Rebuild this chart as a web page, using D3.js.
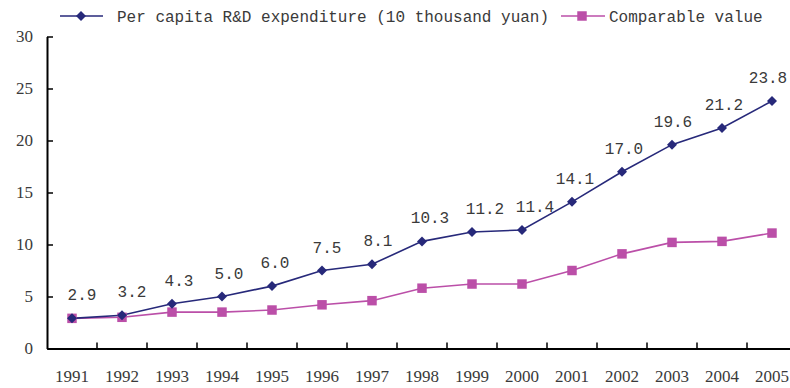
<!DOCTYPE html>
<html>
<head>
<meta charset="utf-8">
<script src="https://cdn.jsdelivr.net/npm/d3@7"></script>
<style>
  html, body { margin: 0; padding: 0; background: #fff; }
  svg { display: block; }
</style>
</head>
<body>
<svg id="chart" width="790" height="388"></svg>
<script>
// Per capita R&D expenditure, 1991-2005
const years = ["1991","1992","1993","1994","1995","1996","1997","1998","1999","2000","2001","2002","2003","2004","2005"];
const perCapita = [2.9, 3.2, 4.3, 5.0, 6.0, 7.5, 8.1, 10.3, 11.2, 11.4, 14.1, 17.0, 19.6, 21.2, 23.8];
const comparable = [2.9, 3.0, 3.5, 3.5, 3.7, 4.2, 4.6, 5.8, 6.2, 6.2, 7.5, 9.1, 10.2, 10.3, 11.1];
const yTicks = [0, 5, 10, 15, 20, 25, 30];
const seriesNames = ["Per capita R&D expenditure (10 thousand yuan)", "Comparable value"];

// horizontal nudges for the value labels so neighbours don't collide
const labelDx = [10, 10, 7, 7, 3, 5, 6, 8, 13, 13, 3, 2, 1, 2, -4];

const navy = "#27297a", pink = "#bb4fa8", textCol = "#3a3a3a";
const serif = "'Liberation Serif', 'DejaVu Serif', serif";
const mono = "'Liberation Mono', 'DejaVu Sans Mono', monospace";

const svg = d3.select("#chart");
const plotLeft = 47, plotBottom = 348.5, plotTop = 36.5;

const x = d3.scaleBand().domain(years).range([plotLeft, plotLeft + 50 * years.length]).padding(0);
const y = d3.scaleLinear().domain([0, 30]).range([plotBottom, plotTop]);
const cx = d => x(d) + x.bandwidth() / 2;

// Axes
const xAxis = d3.axisBottom(x).tickSizeInner(-6).tickSizeOuter(0).tickFormat("");
const gx = svg.append("g").attr("transform", `translate(0,${plotBottom})`).call(xAxis);
gx.select(".domain").attr("stroke", "#000").attr("stroke-width", 2);
gx.selectAll(".tick line").attr("stroke", "#000").attr("stroke-width", 1.5)
  .attr("transform", `translate(${x.bandwidth() / 2},0)`);
gx.selectAll(".tick").filter(d => d === years[years.length - 1]).remove();

const yAxis = d3.axisLeft(y).tickValues(yTicks).tickSizeInner(-6).tickSizeOuter(0).tickFormat("");
const gy = svg.append("g").attr("transform", `translate(${plotLeft},0)`).call(yAxis);
gy.select(".domain").attr("stroke", "#000").attr("stroke-width", 2);
gy.selectAll(".tick line").attr("stroke", "#000").attr("stroke-width", 1.5);

// Tick labels
svg.append("g").selectAll("text").data(yTicks).join("text")
  .attr("x", 33).attr("y", d => y(d)).attr("dy", "0.35em")
  .attr("text-anchor", "end").attr("font-family", serif).attr("font-size", 17)
  .attr("fill", textCol).text(d => d);

svg.append("g").selectAll("text").data(years).join("text")
  .attr("x", d => cx(d)).attr("y", 376).attr("dy", "0.35em")
  .attr("text-anchor", "middle").attr("font-family", serif).attr("font-size", 17)
  .attr("fill", textCol).text(d => d);

// Lines
const line = vals => d3.line().x((d, i) => cx(years[i])).y(d => y(d))(vals);
svg.append("path").attr("d", line(comparable)).attr("fill", "none")
  .attr("stroke", pink).attr("stroke-width", 1.6);
svg.append("path").attr("d", line(perCapita)).attr("fill", "none")
  .attr("stroke", navy).attr("stroke-width", 1.6);

const diamond = d3.symbol().type(d3.symbolSquare).size(50);
const square = d3.symbol().type(d3.symbolSquare).size(90);

svg.append("g").selectAll("path").data(comparable).join("path")
  .attr("d", square).attr("fill", pink)
  .attr("transform", (d, i) => `translate(${cx(years[i])},${y(d)})`);
svg.append("g").selectAll("path").data(perCapita).join("path")
  .attr("d", diamond).attr("fill", navy)
  .attr("transform", (d, i) => `translate(${cx(years[i])},${y(d)}) rotate(45)`);

// Value labels above the per-capita series
svg.append("g").selectAll("text").data(perCapita).join("text")
  .attr("x", (d, i) => cx(years[i]) + labelDx[i]).attr("y", d => y(d) - 18)
  .attr("text-anchor", "middle").attr("font-family", mono).attr("font-size", 16)
  .attr("fill", textCol).text(d => d.toFixed(1));

// Legend
const lg = svg.append("g");
lg.append("line").attr("x1", 60).attr("x2", 103).attr("y1", 16).attr("y2", 16)
  .attr("stroke", navy).attr("stroke-width", 1.6);
lg.append("path").attr("d", diamond).attr("fill", navy)
  .attr("transform", "translate(81,16) rotate(45)");
lg.append("text").attr("x", 117).attr("y", 16).attr("dy", "0.35em")
  .attr("font-family", mono).attr("font-size", 16).attr("fill", textCol).text(seriesNames[0]);

lg.append("line").attr("x1", 561).attr("x2", 605).attr("y1", 16).attr("y2", 16)
  .attr("stroke", pink).attr("stroke-width", 1.6);
lg.append("path").attr("d", square).attr("fill", pink).attr("transform", "translate(582,16)");
lg.append("text").attr("x", 609).attr("y", 16).attr("dy", "0.35em")
  .attr("font-family", mono).attr("font-size", 16).attr("fill", textCol).text(seriesNames[1]);
</script>
</body>
</html>
